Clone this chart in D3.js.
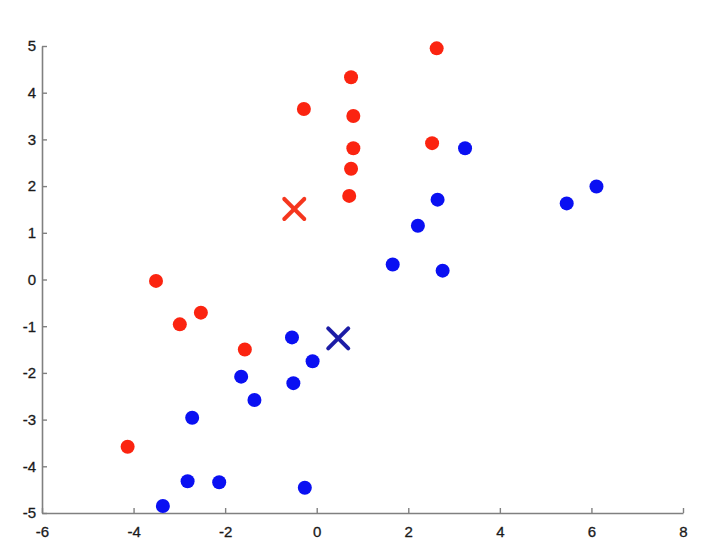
<!DOCTYPE html>
<html>
<head>
<meta charset="utf-8">
<script src="https://cdn.jsdelivr.net/npm/d3@7"></script>
<style>
  html, body { margin: 0; padding: 0; background: #fff; }
  svg { display: block; }
</style>
</head>
<body>
<svg id="chart" width="722" height="560"></svg>
<script>
// ---- data ----
const redX = [2.62, 0.75, -0.28, 0.80, 0.80, 2.52, 0.75, 0.71, -3.51, -2.53, -2.99, -1.57, -4.13];
const redY = [4.95, 4.33, 3.65, 3.50, 2.81, 2.92, 2.37, 1.79, -0.03, -0.71, -0.96, -1.50, -3.58];
const blueX = [3.24, 6.11, 5.46, 2.64, 2.21, 1.66, 2.75, -0.54, -0.09, -0.51, -1.65, -1.36, -2.72, -2.82, -2.13, -0.26, -3.36];
const blueY = [2.81, 1.99, 1.63, 1.71, 1.15, 0.32, 0.19, -1.24, -1.75, -2.22, -2.08, -2.58, -2.96, -4.32, -4.34, -4.46, -4.85];
const centroidX = [-0.49, 0.47];
const centroidY = [1.51, -1.26];
const xTicks = [-6, -4, -2, 0, 2, 4, 6, 8];
const yTicks = [-5, -4, -3, -2, -1, 0, 1, 2, 3, 4, 5];

// ---- layout ----
const svg = d3.select("#chart");
const x = d3.scaleLinear().domain([-6, 8]).range([42, 683]);
const y = d3.scaleLinear().domain([-5, 5]).range([513, 46]);

const axisColor = "#808080";
const textColor = "#1a1a1a";
const fmt = d => String(d);

const xAxis = svg.append("g")
  .attr("transform", `translate(0,${y(-5)})`)
  .call(d3.axisBottom(x).tickValues(xTicks).tickFormat(fmt).tickSizeInner(-5).tickSizeOuter(0).tickPadding(13));
const yAxis = svg.append("g")
  .attr("transform", `translate(${x(-6)},0)`)
  .call(d3.axisLeft(y).tickValues(yTicks).tickFormat(fmt).tickSizeInner(-5).tickSizeOuter(0).tickPadding(6));

[xAxis, yAxis].forEach(g => {
  g.select(".domain").attr("stroke", axisColor).attr("stroke-width", 1.6);
  g.selectAll(".tick line").attr("stroke", axisColor).attr("stroke-width", 1.4);
  g.selectAll(".tick text")
    .attr("fill", textColor)
    .style("font-family", "'Liberation Sans', Arial, sans-serif")
    .style("font-size", "15px")
    .style("font-weight", "500")
    .style("stroke", textColor)
    .style("stroke-width", "0.3px");
});

// ---- points ----
const red = redX.map((v, i) => ({ x: v, y: redY[i] }));
const blue = blueX.map((v, i) => ({ x: v, y: blueY[i] }));

svg.append("g").selectAll("circle").data(red).join("circle")
  .attr("cx", d => x(d.x)).attr("cy", d => y(d.y)).attr("r", 7)
  .attr("fill", "#fb2410");

svg.append("g").selectAll("circle").data(blue).join("circle")
  .attr("cx", d => x(d.x)).attr("cy", d => y(d.y)).attr("r", 7)
  .attr("fill", "#0a10f2");

// ---- centroids (X markers) ----
const cColors = ["#f5361e", "#1c1ca6"];
const half = 10;
centroidX.forEach((cx, i) => {
  const px = x(cx), py = y(centroidY[i]);
  const g = svg.append("g").attr("stroke", cColors[i]).attr("stroke-width", 4).attr("stroke-linecap", "round");
  g.append("line").attr("x1", px - half).attr("y1", py - half).attr("x2", px + half).attr("y2", py + half);
  g.append("line").attr("x1", px - half).attr("y1", py + half).attr("x2", px + half).attr("y2", py - half);
});
</script>
</body>
</html>
